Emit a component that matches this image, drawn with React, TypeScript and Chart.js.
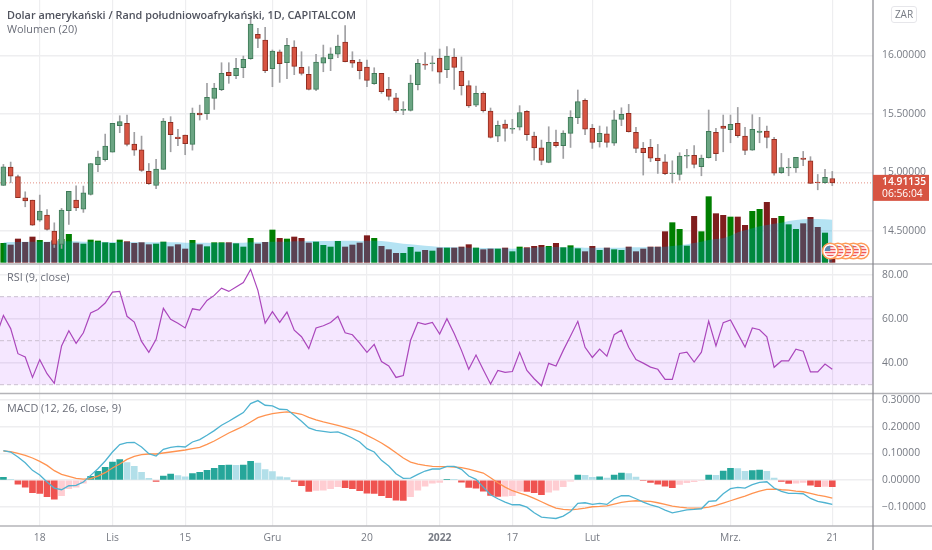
import React, { useEffect, useRef } from "react";
import { Chart, registerables } from "chart.js";

Chart.register(...registerables);

const title = "Dolar amerykański / Rand południowoafrykański, 1D, CAPITALCOM";
const volumeLabel = "Wolumen (20)";
const rsiLabel = "RSI (9, close)";
const macdLabel = "MACD (12, 26, close, 9)";
const currency = "ZAR";
const lastPrice = 14.91135;
const lastPriceText = "14.91135";
const countdownText = "06:56:04";

const timeTickIndex = [5, 15, 25, 37, 50, 60, 70, 81, 100, 114];
const timeTickLabels = ["18", "Lis", "15", "Gru", "20", "2022", "17", "Lut", "Mrz.", "21"];
const priceTicks = [14.5, 15, 15.5, 16];
const rsiTicks = [40, 60, 80];
const macdTicks = [-0.1, 0, 0.1, 0.2, 0.3];
const rsiBands = [70, 50, 30];

const opens = [14.889,15.046,14.964,14.784,14.764,14.593,14.636,14.499,14.385,14.673,14.764,14.687,14.812,15.066,15.109,15.174,15.4,15.42,15.243,15.194,15.009,14.889,15.026,15.428,15.303,15.32,15.24,15.508,15.502,15.633,15.707,15.856,15.827,15.895,15.972,16.18,16.132,15.887,16.032,15.938,16.072,15.898,15.838,15.71,15.935,15.97,16.012,16.115,15.958,15.944,15.901,15.759,15.847,15.713,15.639,15.531,15.531,15.75,15.927,15.93,15.978,15.878,15.987,15.864,15.742,15.576,15.676,15.525,15.311,15.414,15.371,15.388,15.522,15.311,15.211,15.086,15.257,15.229,15.334,15.468,15.616,15.377,15.263,15.331,15.251,15.454,15.505,15.343,15.206,15.214,15.123,15.092,14.989,14.983,15.14,15.146,15.049,15.126,15.343,15.397,15.365,15.42,15.311,15.191,15.343,15.354,15.283,14.998,15.04,15.04,15.123,15.1,14.918,14.912,14.949];
const highs = [15.069,15.089,14.978,14.835,14.764,14.807,14.684,14.57,14.693,14.838,14.887,14.884,15.077,15.183,15.328,15.42,15.485,15.491,15.343,15.311,15.077,15.112,15.462,15.477,15.368,15.32,15.551,15.576,15.762,15.762,15.938,15.938,15.975,15.995,16.326,16.232,16.24,16.047,16.047,16.146,16.126,16.032,15.904,16.009,16.089,16.066,16.175,16.255,16.032,15.967,15.961,15.895,15.847,15.813,15.676,15.605,15.833,15.967,16.024,15.995,16.055,16.075,16.058,15.987,15.784,15.739,15.69,15.551,15.44,15.448,15.454,15.571,15.528,15.345,15.277,15.391,15.363,15.357,15.528,15.705,15.63,15.411,15.397,15.391,15.528,15.553,15.582,15.385,15.257,15.283,15.24,15.154,15.1,15.169,15.197,15.231,15.149,15.534,15.377,15.491,15.491,15.556,15.385,15.494,15.471,15.397,15.3,15.163,15.12,15.129,15.18,15.135,14.983,15.026,15.009];
const lows = [14.889,14.912,14.784,14.707,14.547,14.582,14.507,14.359,14.351,14.556,14.673,14.659,14.807,15.006,15.097,15.174,15.34,15.226,15.146,15.009,14.898,14.861,15.026,15.177,15.229,15.152,15.191,15.448,15.454,15.539,15.699,15.762,15.801,15.81,15.967,16.066,15.853,15.733,15.77,15.801,15.836,15.833,15.705,15.699,15.861,15.87,15.981,15.944,15.898,15.799,15.733,15.753,15.676,15.619,15.514,15.494,15.525,15.705,15.881,15.867,15.762,15.81,15.71,15.662,15.556,15.562,15.516,15.294,15.263,15.268,15.334,15.363,15.274,15.106,15.066,15.083,15.217,15.12,15.214,15.417,15.323,15.206,15.217,15.217,15.231,15.4,15.345,15.169,14.978,15.092,14.992,14.981,14.912,14.935,15.04,15.04,14.972,15.123,15.1,15.177,15.254,15.3,15.152,15.189,15.254,15.211,14.978,14.992,14.972,15.001,15.058,14.907,14.852,14.907,14.887];
const closes = [15.049,14.969,14.784,14.758,14.55,14.67,14.513,14.385,14.679,14.838,14.698,14.827,15.077,15.132,15.226,15.42,15.434,15.24,15.191,15.018,14.904,15.029,15.44,15.323,15.288,15.246,15.508,15.491,15.642,15.722,15.847,15.827,15.89,15.967,16.269,16.146,15.87,16.038,15.93,16.086,15.907,15.847,15.71,15.944,15.981,16.015,16.081,15.947,15.935,15.87,15.787,15.847,15.69,15.65,15.528,15.539,15.764,15.933,15.918,15.938,15.858,15.995,15.898,15.742,15.568,15.676,15.528,15.3,15.402,15.377,15.377,15.511,15.323,15.211,15.103,15.257,15.229,15.337,15.471,15.605,15.371,15.257,15.334,15.257,15.451,15.496,15.348,15.206,15.169,15.123,15.1,14.989,14.995,15.14,15.146,15.069,15.123,15.351,15.16,15.377,15.411,15.314,15.189,15.368,15.354,15.3,14.995,15.043,15.046,15.129,15.112,14.907,14.912,14.958,14.911];

const volumes = [57,52,70,60,76,66,60,65,69,84,58,55,67,64,59,57,67,62,57,59,53,55,61,47,53,40,66,53,47,59,59,59,56,46,72,55,60,97,72,70,76,72,58,61,51,46,63,46,52,58,80,72,48,38,27,27,45,31,36,34,43,43,43,46,53,43,38,40,40,43,32,46,44,48,51,48,57,44,50,41,32,48,36,43,38,36,46,32,40,46,46,92,119,99,49,138,92,197,146,141,136,136,111,153,159,180,132,138,113,99,116,135,105,88,30];
const volumeAverage = [60,61,61,62,62,62,62,63,63,63,63,62,62,62,61,61,61,61,61,60,60,60,61,60,60,59,59,59,59,58,58,59,59,59,60,60,61,62,62,62,63,63,64,64,64,64,65,65,65,64,65,65,64,62,59,56,54,52,50,48,46,46,45,45,44,44,43,43,42,42,41,42,43,44,46,46,46,45,45,45,44,44,44,44,44,44,45,45,45,46,46,47,49,51,54,58,62,67,70,72,80,90,96,102,108,112,116,119,124,127,129,130,130,129,128];

const rsiBefore = 52;
const rsi = [61.5,55.5,44.1,42.6,33.3,41.4,35,30.6,47.6,54.5,48.8,53.6,62.6,64.2,67.1,72.1,72.4,61.1,58.5,49.7,44.7,50.6,64.7,59.7,57.9,55.8,64.5,63.9,68.3,70.6,73.9,72.4,74.4,76.4,82.4,72.9,58,63.2,58.3,63,54.8,51.8,46.4,55.8,56.8,58.3,61.1,53.6,52.7,48.9,44.7,48.3,40.5,38.5,33.3,34.2,50.2,58.3,57.4,58.3,53,60,53.3,45.6,37,43.5,36.8,30.3,36.5,35.6,36,44.7,36.5,32.7,29.5,39.7,38.5,45.6,52.1,58.8,47,42.4,46.2,43,52.7,54.8,47,41.4,39.8,38,37,32.4,32.4,44.2,44.8,40.3,44.8,58.9,47.6,58.2,59.4,53.2,47.1,55.8,55,51.8,37.9,40.8,40.8,46.1,45.2,35.8,35.8,39.4,37];

const macd = [0.11,0.105,0.0863,0.065,0.0363,0.0188,-0.0075,-0.03,-0.0363,-0.0213,-0.02,-0.0075,0.0175,0.0425,0.0713,0.105,0.1325,0.14,0.1413,0.1238,0.0988,0.09,0.115,0.1225,0.1263,0.1238,0.1425,0.1513,0.1675,0.185,0.205,0.22,0.2363,0.2525,0.2863,0.2975,0.28,0.2775,0.265,0.2638,0.2425,0.22,0.195,0.1863,0.1825,0.1788,0.18,0.17,0.1575,0.1425,0.1175,0.105,0.0738,0.0525,0.0238,0.0063,0.0075,0.0213,0.0338,0.0413,0.0413,0.0513,0.0513,0.04,0.015,0.0025,-0.0263,-0.055,-0.07,-0.0825,-0.0925,-0.0925,-0.1013,-0.1225,-0.1388,-0.1413,-0.1438,-0.135,-0.1175,-0.0875,-0.085,-0.0913,-0.0875,-0.0913,-0.07,-0.0588,-0.0588,-0.07,-0.0825,-0.0925,-0.1,-0.1125,-0.1225,-0.1175,-0.1113,-0.11,-0.1075,-0.08,-0.0775,-0.0513,-0.0325,-0.0275,-0.03,-0.0175,-0.0088,-0.0063,-0.03,-0.0425,-0.05,-0.05,-0.0513,-0.0688,-0.08,-0.085,-0.0913];
const macdSignal = [0.1088,0.1063,0.1,0.0925,0.0825,0.07,0.055,0.035,0.0213,0.0138,0.0063,0.0038,0.005,0.015,0.0275,0.045,0.06,0.0775,0.0888,0.095,0.0975,0.0975,0.1013,0.105,0.1088,0.1125,0.1175,0.1225,0.1338,0.1463,0.1613,0.1763,0.1888,0.2013,0.2175,0.2338,0.2425,0.2488,0.2525,0.255,0.2513,0.2463,0.235,0.225,0.2175,0.2113,0.205,0.1975,0.19,0.1813,0.1675,0.1538,0.1388,0.1213,0.1025,0.0825,0.0675,0.06,0.055,0.0513,0.05,0.05,0.0488,0.0463,0.0413,0.0338,0.0263,0.0088,-0.01,-0.0263,-0.04,-0.0488,-0.0575,-0.0688,-0.0813,-0.0938,-0.105,-0.11,-0.1113,-0.1088,-0.105,-0.1,-0.0988,-0.0963,-0.09,-0.0838,-0.08,-0.0775,-0.0788,-0.08,-0.085,-0.0913,-0.0975,-0.1013,-0.1038,-0.105,-0.105,-0.1013,-0.095,-0.0863,-0.0775,-0.0688,-0.06,-0.05,-0.0413,-0.035,-0.0338,-0.0363,-0.0375,-0.0413,-0.0438,-0.05,-0.0563,-0.0613,-0.0675];
const macdHistogram = [0.01,0.0025,-0.015,-0.0263,-0.0475,-0.05,-0.0625,-0.0713,-0.0588,-0.0325,-0.0263,-0.0113,0.0138,0.0325,0.0475,0.0675,0.0763,0.065,0.0513,0.0288,0.0063,-0.005,0.015,0.0225,0.0163,0.0125,0.0238,0.0288,0.0363,0.0438,0.055,0.0556,0.055,0.0563,0.07,0.0638,0.0388,0.0313,0.0125,0.0088,-0.005,-0.0213,-0.0425,-0.0388,-0.0375,-0.0325,-0.025,-0.0288,-0.0325,-0.04,-0.0488,-0.05,-0.0588,-0.0663,-0.075,-0.0763,-0.0625,-0.0375,-0.0225,-0.0113,-0.0088,0.0025,0.0019,-0.0075,-0.0275,-0.03,-0.0413,-0.0575,-0.0613,-0.06,-0.0588,-0.0413,-0.0425,-0.0475,-0.055,-0.045,-0.0375,-0.025,-0.0038,0.0188,0.0175,0.01,0.0119,0.0075,0.0188,0.0263,0.0238,0.0113,-0.0025,-0.0088,-0.015,-0.0225,-0.0288,-0.0163,-0.01,-0.0063,-0.0025,0.0188,0.0175,0.0338,0.0438,0.0425,0.0325,0.035,0.0375,0.0325,0.0075,-0.005,-0.0125,-0.0113,-0.0088,-0.0188,-0.025,-0.0238,-0.025];

const UP = "#6ba583";
const DOWN = "#d75442";
const UP_EDGE = "#3f7a58";
const DOWN_EDGE = "#8f2e22";
const FONT = "'Open Sans', 'Noto Sans', sans-serif";
const GRID = "#eeeef0";
const TEXT = "#777b84";
const TICK_SIZE = 10.3;

const isUp = (i: number) => closes[i] >= opens[i];

const histColor = (i: number) => {
  const h = macdHistogram[i];
  const prev = i > 0 ? macdHistogram[i - 1] : -1;
  if (h >= 0) return h > prev ? "#26a69a" : "#b2dfe9";
  return h > prev ? "#ffcdd2" : "#ef5350";
};

const indexed = (values: number[]) => values.map((y, x) => ({ x, y }));

const noPadding = (s: any) => {
  s.paddingTop = 0;
  s.paddingBottom = 0;
  s.paddingLeft = 0;
  s.paddingRight = 0;
};

function drawFlag(ctx: CanvasRenderingContext2D, cx: number, cy: number, r: number) {
  const inner = r - 2.2;
  ctx.save();
  ctx.beginPath();
  ctx.arc(cx, cy, r, 0, Math.PI * 2);
  ctx.fillStyle = "#ffffff";
  ctx.fill();
  ctx.lineWidth = 1.5;
  ctx.strokeStyle = "#ff9a56";
  ctx.stroke();
  ctx.beginPath();
  ctx.arc(cx, cy, inner, 0, Math.PI * 2);
  ctx.clip();
  ctx.fillStyle = "#f0555a";
  for (let k = -3; k <= 3; k += 2) ctx.fillRect(cx - r, cy + k * 1.5 - 0.7, r * 2, 1.5);
  ctx.fillStyle = "#5b86b0";
  ctx.fillRect(cx - r, cy - r, r, r);
  ctx.restore();
}

const panePlugin = {
  id: "panes",
  beforeDatasetsDraw(chart: any) {
    const { ctx, chartArea: a, scales } = chart;
    const r = scales.yRsi;
    ctx.save();
    ctx.fillStyle = "rgba(153,21,255,0.1)";
    const top = r.getPixelForValue(rsiBands[0]);
    const bottom = r.getPixelForValue(rsiBands[2]);
    ctx.fillRect(a.left, top, a.right - a.left, bottom - top);
    ctx.strokeStyle = "#cbbfd0";
    ctx.setLineDash([4, 3]);
    ctx.lineWidth = 1;
    rsiBands.forEach((b) => {
      const y = r.getPixelForValue(b);
      ctx.beginPath();
      ctx.moveTo(a.left, y);
      ctx.lineTo(a.right, y);
      ctx.stroke();
    });
    const py = scales.y.getPixelForValue(lastPrice);
    ctx.strokeStyle = "rgba(215,84,66,0.65)";
    ctx.setLineDash([1, 2]);
    ctx.beginPath();
    ctx.moveTo(a.left, py);
    ctx.lineTo(a.right, py);
    ctx.stroke();
    ctx.restore();
  },
  afterDraw(chart: any) {
    const { ctx, chartArea: a, scales, width, height } = chart;
    ctx.save();
    ctx.strokeStyle = "#b4b4b8";
    ctx.lineWidth = 1.6;
    [scales.yRsi.top, scales.yMacd.top, a.bottom].forEach((y: number) => {
      ctx.beginPath();
      ctx.moveTo(0, y);
      ctx.lineTo(width, y);
      ctx.stroke();
    });
    ctx.strokeStyle = "#85858c";
    ctx.lineWidth = 1.2;
    ctx.beginPath();
    ctx.moveTo(a.right, 0);
    ctx.lineTo(a.right, height);
    ctx.stroke();

    const py = scales.y.getPixelForValue(lastPrice);
    const tagTop = py - 8;
    ctx.fillStyle = DOWN;
    ctx.fillRect(a.right, tagTop, 56, 26);
    ctx.fillStyle = "#ffffff";
    ctx.font = `600 ${TICK_SIZE}px ${FONT}`;
    ctx.textAlign = "left";
    ctx.textBaseline = "middle";
    ctx.fillText(lastPriceText, a.right + 9, tagTop + 7);
    ctx.font = `${TICK_SIZE}px ${FONT}`;
    ctx.fillText(countdownText, a.right + 9, tagTop + 19.5);

    const cx = scales.x.getPixelForValue(114);
    const cy = scales.yVol.getPixelForValue(34);
    for (let k = 4; k >= 0; k--) drawFlag(ctx, cx - 2 + k * 7.7, cy, 7.8);
    ctx.restore();
  },
};

const paneAxis = (stackWeight: number, min: number, max: number, ticks: number[], digits: number) => ({
  type: "linear",
  axis: "y",
  position: "right",
  stack: "panes",
  stackWeight,
  min,
  max,
  afterFit: (s: any) => {
    s.width = 59;
    noPadding(s);
  },
  afterBuildTicks: (s: any) => {
    s.ticks = ticks.map((value) => ({ value }));
  },
  border: { display: false },
  grid: { color: GRID, lineWidth: 1.4, drawTicks: false },
  ticks: {
    autoSkip: false,
    padding: 9,
    color: TEXT,
    font: { family: FONT, size: TICK_SIZE },
    callback: (v: number) => (v < 0 ? "\u2212" + Math.abs(v).toFixed(digits) : v.toFixed(digits)),
  },
});

export default function App() {
  const ref = useRef<HTMLCanvasElement | null>(null);

  useEffect(() => {
    document.body.style.margin = "0";
    document.body.style.overflow = "hidden";
    const chart = new Chart(ref.current as HTMLCanvasElement, {
      type: "bar",
      plugins: [panePlugin],
      data: {
        datasets: [
          {
            type: "line",
            yAxisID: "yRsi",
            order: 1,
            data: [{ x: -1, y: rsiBefore }, ...indexed(rsi)],
            borderColor: "#ab47bc",
            borderWidth: 1.2,
            pointRadius: 0,
            tension: 0,
          },
          {
            type: "line",
            yAxisID: "yMacd",
            order: 1,
            data: indexed(macd),
            borderColor: "#4fb3d1",
            borderWidth: 1.3,
            pointRadius: 0,
            tension: 0,
          },
          {
            type: "line",
            yAxisID: "yMacd",
            order: 1,
            data: indexed(macdSignal),
            borderColor: "#ff9350",
            borderWidth: 1.3,
            pointRadius: 0,
            tension: 0,
          },
          {
            type: "bar",
            yAxisID: "yMacd",
            order: 2,
            data: indexed(macdHistogram),
            backgroundColor: macdHistogram.map((_, i) => histColor(i)),
            barThickness: 6,
          },
          {
            type: "bar",
            yAxisID: "y",
            order: 2,
            data: opens.map((o, x) => ({ x, y: [o, closes[x]] })),
            backgroundColor: opens.map((_, i) => (isUp(i) ? UP : DOWN)),
            borderColor: opens.map((_, i) => (isUp(i) ? UP_EDGE : DOWN_EDGE)),
            borderWidth: 1,
            borderSkipped: false,
            barThickness: 5,
          },
          {
            type: "bar",
            yAxisID: "y",
            order: 3,
            data: lows.map((l, x) => ({ x, y: [l, highs[x]] })),
            backgroundColor: "#a0a0a3",
            barThickness: 1,
          },
          {
            type: "line",
            yAxisID: "yVol",
            order: 4,
            data: indexed(volumeAverage),
            borderWidth: 0,
            pointRadius: 0,
            fill: "origin",
            backgroundColor: "rgba(0,160,215,0.29)",
            tension: 0,
          },
          {
            type: "bar",
            yAxisID: "yVol",
            order: 5,
            data: indexed(volumes),
            backgroundColor: volumes.map((_, i) => (isUp(i) ? "#007f00" : "#7f1d1d")),
            barThickness: 5.4,
          },
        ],
      },
      options: {
        animation: false,
        responsive: false,
        layout: { padding: 0 },
        datasets: { bar: { grouped: false } },
        plugins: { legend: { display: false }, tooltip: { enabled: false } },
        scales: {
          x: {
            type: "linear",
            offset: false,
            min: -0.468,
            max: 119.6,
            afterFit: (s: any) => {
              s.height = 24;
              noPadding(s);
            },
            afterBuildTicks: (s: any) => {
              s.ticks = timeTickIndex.map((value) => ({ value }));
            },
            border: { display: false },
            grid: { color: GRID, lineWidth: 1.2, drawTicks: false, offset: false },
            ticks: {
              autoSkip: false,
              maxRotation: 0,
              padding: 6,
              color: TEXT,
              font: (c: any) => ({
                family: FONT,
                size: TICK_SIZE,
                weight: c.tick && c.tick.value === 60 ? "bold" : "normal",
              }),
              callback: (v: number) => timeTickLabels[timeTickIndex.indexOf(v)],
            },
          },
          y: paneAxis(264, 14.218, 16.474, priceTicks, 5),
          yRsi: paneAxis(129.5, 26, 84.86, rsiTicks, 2),
          yMacd: paneAxis(132.5, -0.172, 0.324, macdTicks, 5),
          yVol: {
            type: "linear",
            axis: "y",
            position: "right",
            display: false,
            min: -791,
            max: 787,
            afterFit: noPadding,
          },
        },
      } as any,
    } as any);
    return () => chart.destroy();
  }, []);

  const label = (text: string, top: number, weight = 400) => (
    <div
      style={{
        position: "absolute",
        left: 7,
        top,
        font: `${weight} 10.85px ${FONT}`,
        color: weight > 400 ? "#50535e" : "#6a6d78",
        whiteSpace: "nowrap",
      }}
    >
      {text}
    </div>
  );

  return (
    <div style={{ position: "relative", width: 932, height: 550, overflow: "hidden", background: "#fff" }}>
      <canvas ref={ref} width={932} height={550} style={{ display: "block" }} />
      {label(title, 7, 600)}
      {label(volumeLabel, 21)}
      {label(rsiLabel, 269)}
      {label(macdLabel, 400)}
      <div
        style={{
          position: "absolute",
          left: 891,
          top: 6,
          width: 24,
          height: 15,
          border: "1px solid #e6e6ea",
          borderRadius: 3,
          font: `10px ${FONT}`,
          color: TEXT,
          textAlign: "center",
          lineHeight: "15px",
          boxSizing: "content-box",
        }}
      >
        {currency}
      </div>
    </div>
  );
}
